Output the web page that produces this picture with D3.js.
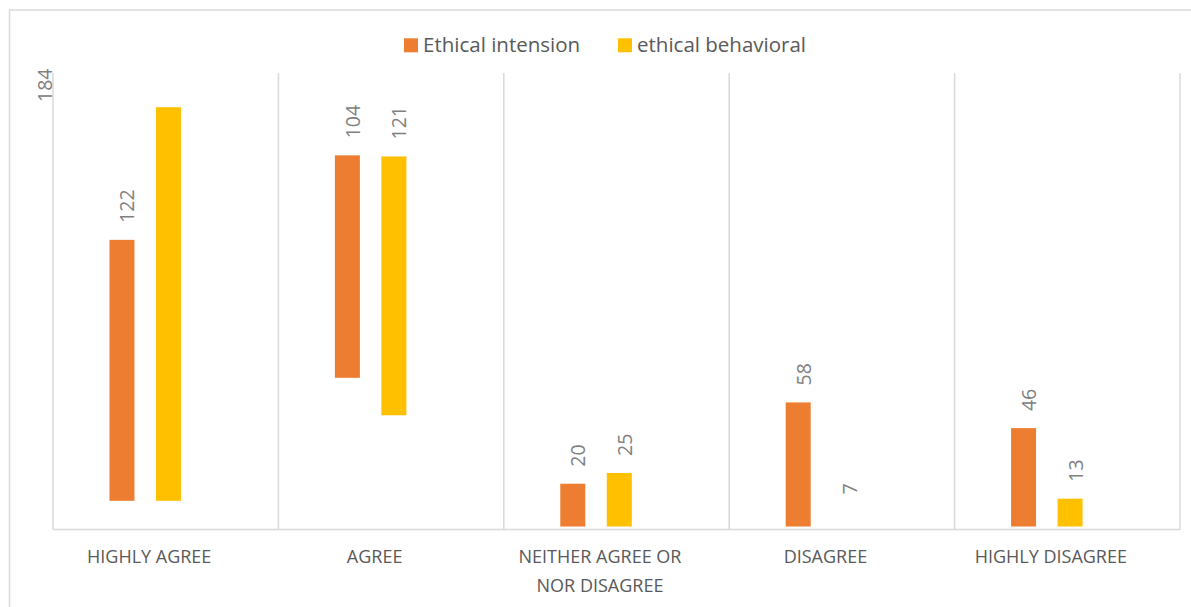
<!DOCTYPE html>
<html>
<head>
<meta charset="utf-8">
<script src="https://cdn.jsdelivr.net/npm/d3@7"></script>
<style>
  html, body { margin: 0; padding: 0; background: #fff; }
  svg { display: block; }
  text { font-family: "Open Sans", "Noto Sans", sans-serif; }
</style>
</head>
<body>
<svg id="chart" width="1191" height="607"></svg>
<script>
// ---- data ----
const categories = ["HIGHLY AGREE", "AGREE", "NEITHER AGREE OR NOR DISAGREE", "DISAGREE", "HIGHLY DISAGREE"];
const categoryLines = [["HIGHLY AGREE"], ["AGREE"], ["NEITHER AGREE OR", "NOR DISAGREE"], ["DISAGREE"], ["HIGHLY DISAGREE"]];
const seriesNames = ["Ethical intension", "ethical behavioral"];
const intensionValues = [122, 104, 20, 58, 46];
const behavioralValues = [184, 121, 25, 7, 13];
// floating offsets of the bars (bars do not start at zero in the original)
const intensionBase = [12, 69.5, 0, 0, 0];
const behavioralBase = [12, 52, 0, 0, 0];
const seriesColors = ["#ED7D31", "#FFC000"];
const hiddenBars = [[], ["DISAGREE"]]; // bar drawn without fill in original

// ---- layout ----
const svg = d3.select("#chart");
const plot = { left: 53, right: 1180, top: 73, zero: 526.5 };
const axisY = 529.5;

// outer border
svg.append("rect")
  .attr("x", 9.5).attr("y", 10).attr("width", 1200).attr("height", 620)
  .attr("fill", "none").attr("stroke", "#d9d9d9").attr("stroke-width", 1.5);

const x = d3.scaleBand().domain(categories).range([plot.left, plot.right]).padding(0);
const xs = d3.scaleBand().domain(seriesNames).range([0, x.bandwidth()])
  .paddingInner(0.4624).paddingOuter(1.655).align(0.367);
const y = d3.scaleLinear().domain([0, 212]).range([plot.zero, plot.top]);

// vertical grid lines at category boundaries
const bounds = categories.map(c => x(c)).concat([plot.right]);
svg.append("g").selectAll("line").data(bounds).join("line")
  .attr("x1", d => d).attr("x2", d => d)
  .attr("y1", plot.top).attr("y2", axisY)
  .attr("stroke", "#d9d9d9").attr("stroke-width", 1.5);
// horizontal axis line
svg.append("line")
  .attr("x1", plot.left).attr("x2", plot.right)
  .attr("y1", axisY).attr("y2", axisY)
  .attr("stroke", "#d9d9d9").attr("stroke-width", 1.5);

const series = [
  { name: seriesNames[0], values: intensionValues, base: intensionBase, color: seriesColors[0], hidden: hiddenBars[0] },
  { name: seriesNames[1], values: behavioralValues, base: behavioralBase, color: seriesColors[1], hidden: hiddenBars[1] }
];

const barW = 25;
series.forEach(s => {
  const data = categories.map((c, i) => ({ c, v: s.values[i], b: s.base[i] }));
  const g = svg.append("g");
  g.selectAll("rect").data(data).join("rect")
    .attr("x", d => x(d.c) + xs(s.name) + xs.bandwidth() / 2 - barW / 2)
    .attr("width", barW)
    .attr("y", d => y(d.b + d.v))
    .attr("height", d => y(d.b) - y(d.b + d.v))
    .attr("fill", d => s.hidden.includes(d.c) ? "none" : s.color);

  // value labels, rotated
  g.selectAll("text").data(data).join("text")
    .attr("fill", "#808080")
    .attr("font-size", 19.5)
    .text(d => d.v)
    .each(function(d) {
      const el = d3.select(this);
      const len = this.getComputedTextLength();
      const cx = x(d.c) + xs(s.name) + xs.bandwidth() / 2;
      let lx = cx + 12.5;
      let ly = y(d.b + d.v) - 17;
      if (ly - len < plot.top) { // does not fit: moved to the plot's top-left corner
        lx = plot.left - 1;
        ly = plot.top + 29;
      }
      el.attr("transform", `translate(${lx},${ly}) rotate(-90)`);
    });
});

// category labels
const catG = svg.append("g");
categories.forEach((c, i) => {
  const t = catG.append("text")
    .attr("text-anchor", "middle")
    .attr("fill", "#595959")
    .attr("font-size", 18);
  categoryLines[i].forEach((line, k) => {
    t.append("tspan")
      .attr("x", x(c) + x.bandwidth() / 2 - 16.5)
      .attr("y", 562.7 + k * 29)
      .text(line);
  });
});

// legend
const legendItems = [
  { name: seriesNames[0], color: seriesColors[0], x: 404 },
  { name: seriesNames[1], color: seriesColors[1], x: 618 }
];
const lg = svg.append("g");
legendItems.forEach(it => {
  lg.append("rect").attr("x", it.x).attr("y", 38.3).attr("width", 14).attr("height", 14).attr("fill", it.color);
  lg.append("text").attr("x", it.x + 19).attr("y", 52).attr("font-size", 20.5).attr("fill", "#595959").text(it.name);
});
</script>
</body>
</html>
